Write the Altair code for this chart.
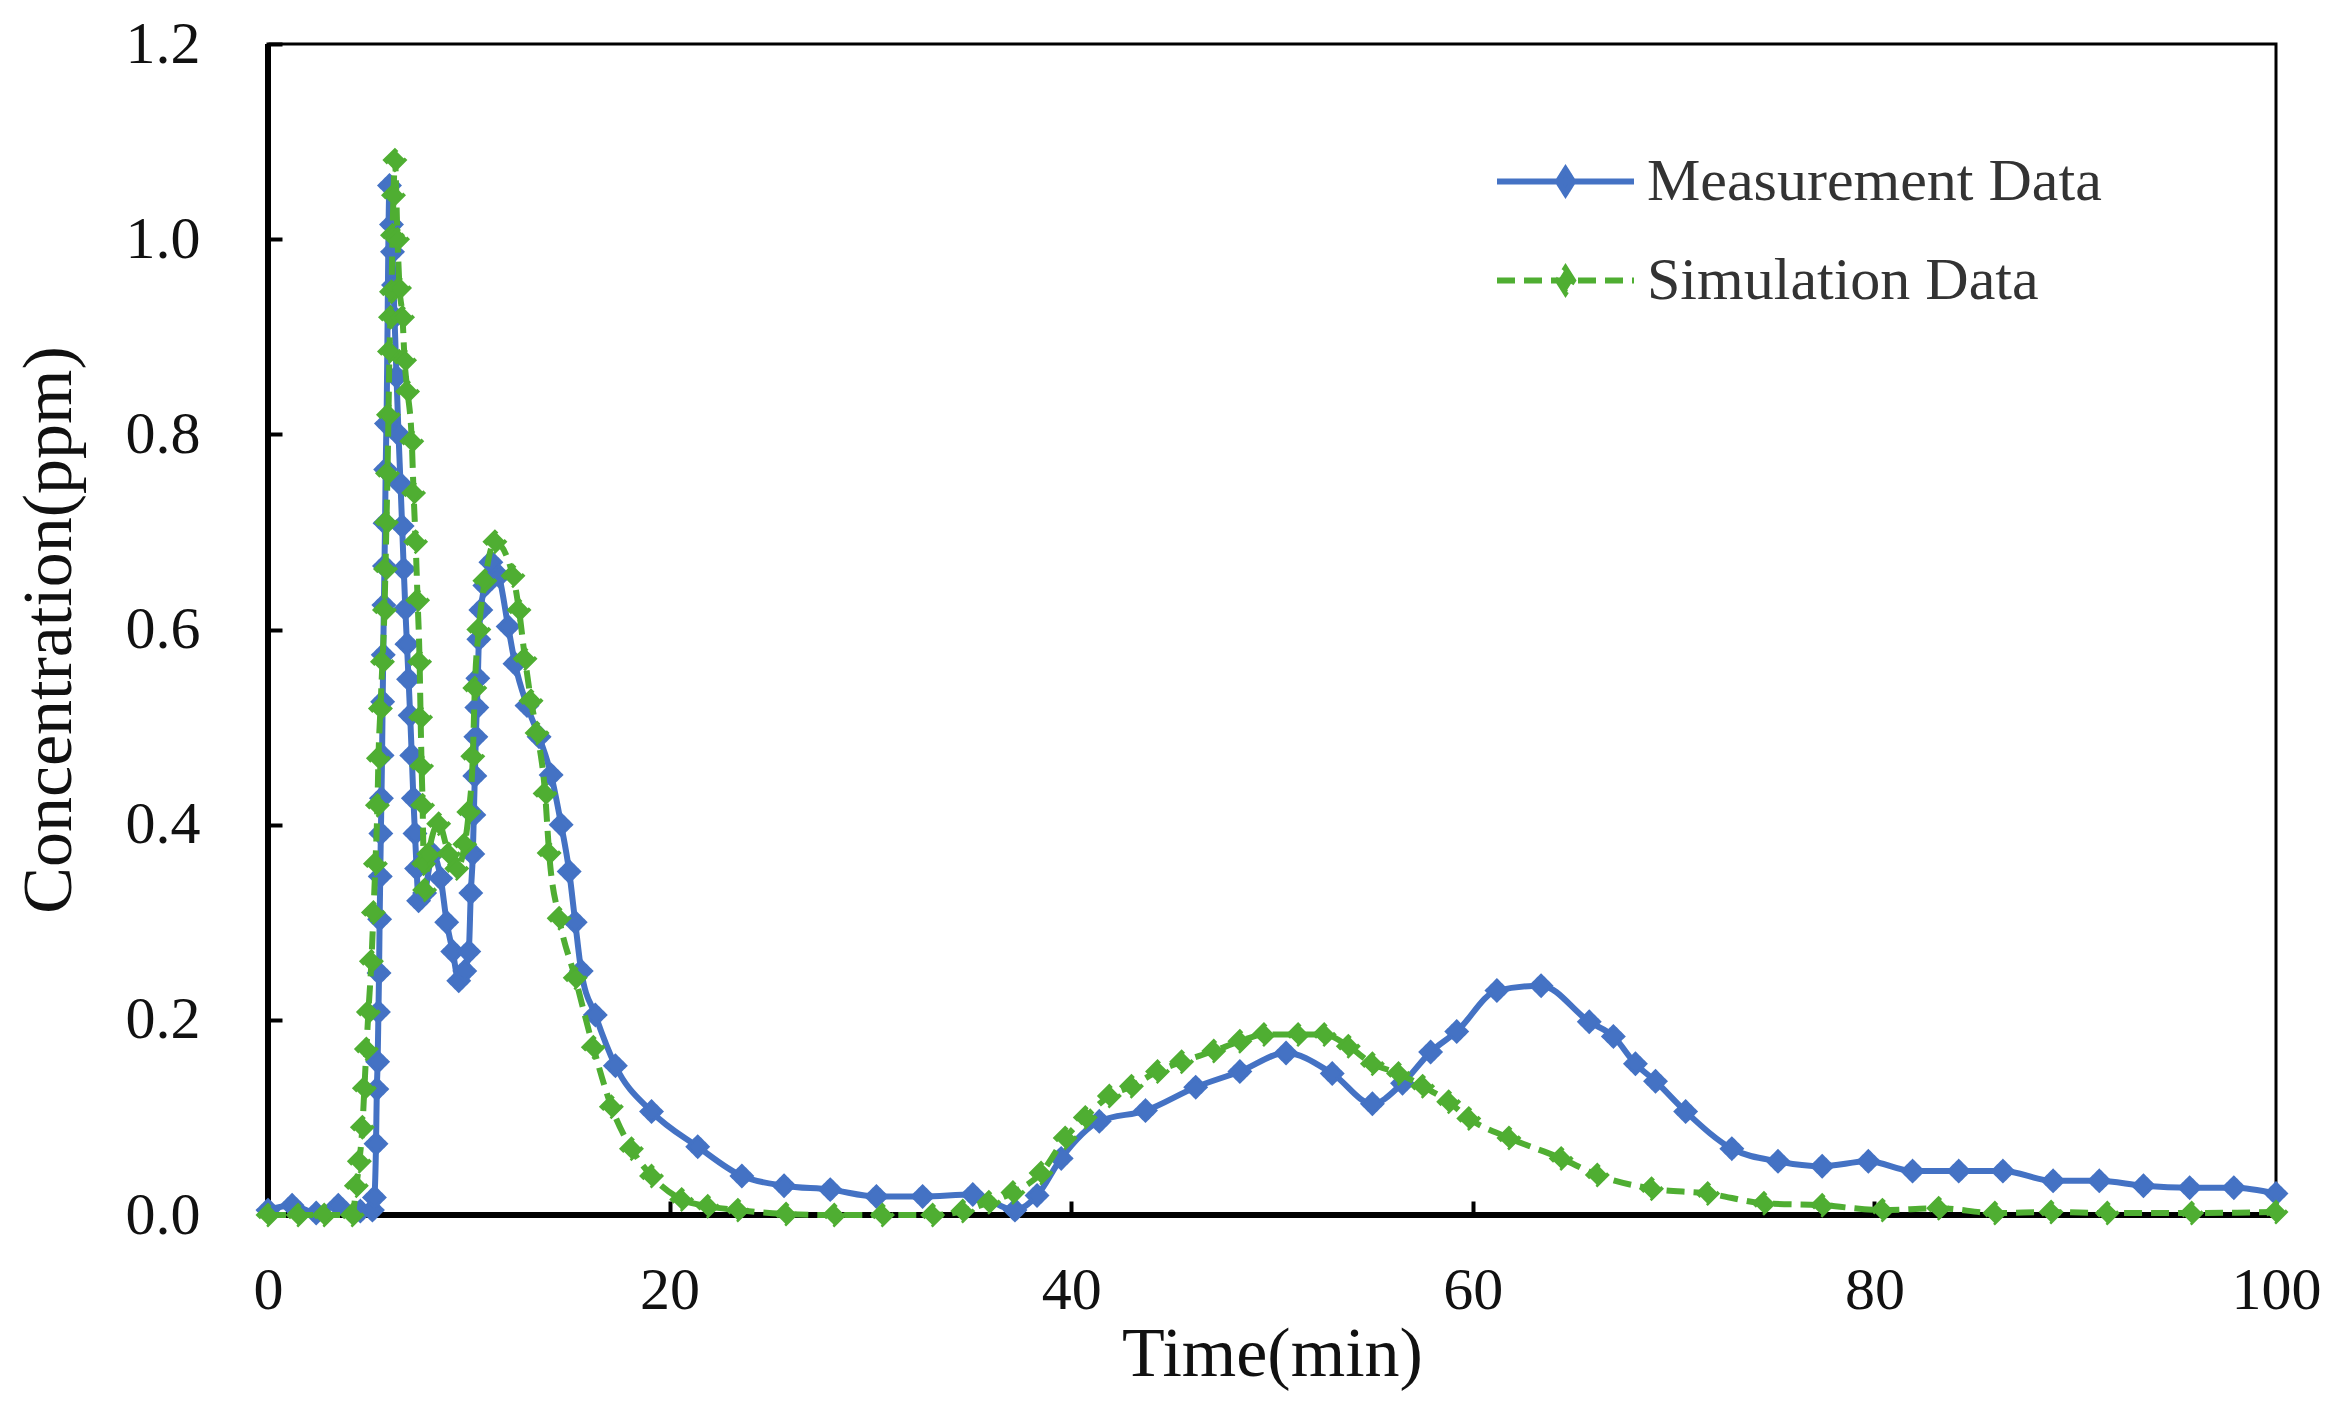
import altair as alt
import pandas as pd

# ---- data ----
meas_t = [0, 1.2, 2.4, 3.5, 4.6, 5.2, 5.3, 5.38, 5.42, 5.46, 5.5, 5.53, 5.56, 5.59, 5.62,
          5.65, 5.68, 5.71, 5.74, 5.77, 5.8, 5.83, 5.86, 5.9, 6.05, 6.15, 6.2, 6.25, 6.3,
          6.4, 6.5, 6.6, 6.68, 6.76, 6.84, 6.92, 7.0, 7.08, 7.16, 7.24, 7.32, 7.4, 7.5,
          7.8, 8.2, 8.6, 8.9, 9.2, 9.5, 9.8, 10.0, 10.1, 10.2, 10.25, 10.3, 10.35, 10.4,
          10.45, 10.5, 10.6, 10.8, 11.1, 11.5, 11.96, 12.3, 12.9, 13.5, 14.1, 14.6, 15.0,
          15.3, 15.6, 16.3, 17.3, 19.1, 21.4, 23.6, 25.7, 28.0, 30.3, 32.6, 35.1, 37.2,
          38.3, 39.5, 41.4, 43.7, 46.2, 48.4, 50.7, 53.0, 55.0, 56.5, 57.9, 59.2, 61.2,
          63.4, 65.8, 67.0, 68.1, 69.1, 70.6, 72.9, 75.2, 77.4, 79.7, 81.9, 84.2, 86.4,
          88.9, 91.2, 93.4, 95.7, 97.9, 100]
meas_c = [0.005, 0.01, 0.002, 0.01, 0.004, 0.005, 0.018, 0.073, 0.129, 0.157, 0.208, 0.248,
          0.303, 0.347, 0.391, 0.427, 0.471, 0.526, 0.574, 0.625, 0.665, 0.709, 0.764, 0.811,
          1.055, 1.015, 0.987, 0.953, 0.92, 0.859, 0.80, 0.749, 0.706, 0.662, 0.621, 0.585,
          0.549, 0.512, 0.471, 0.427, 0.391, 0.355, 0.322, 0.33, 0.37, 0.345, 0.30, 0.27,
          0.24, 0.25, 0.27, 0.33, 0.37, 0.41, 0.45, 0.49, 0.52, 0.55, 0.59, 0.62, 0.645,
          0.669, 0.655, 0.603, 0.565, 0.522, 0.49, 0.451, 0.40, 0.352, 0.30, 0.25, 0.205,
          0.153, 0.106, 0.07, 0.04, 0.03, 0.026, 0.019, 0.019, 0.021, 0.005, 0.02, 0.058,
          0.096, 0.107, 0.131, 0.147, 0.166, 0.145, 0.114, 0.135, 0.167, 0.188, 0.23,
          0.235, 0.198, 0.183, 0.155, 0.137, 0.106, 0.068, 0.055, 0.05, 0.055, 0.045,
          0.045, 0.045, 0.035, 0.035, 0.03, 0.028, 0.028, 0.022]

sim_t = [0, 1.5, 2.8, 4.2, 4.4, 4.55, 4.7, 4.8, 4.9, 5.0, 5.15, 5.25, 5.35, 5.45, 5.5, 5.6,
         5.7, 5.8, 5.85, 5.9, 5.95, 6.0, 6.05, 6.1, 6.15, 6.2, 6.25, 6.32, 6.45, 6.55, 6.7,
         6.8, 6.95, 7.16, 7.25, 7.35, 7.45, 7.55, 7.6, 7.65, 7.7, 7.75, 7.8, 8.0, 8.5, 9.0,
         9.4, 9.8, 10.0, 10.2, 10.3, 10.5, 10.8, 11.3, 12.2, 12.5, 12.8, 13.1, 13.4, 13.8,
         14.0, 14.5, 15.3, 16.2, 17.1, 18.1, 19.1, 20.6, 21.9, 23.4, 25.8, 28.2, 30.6,
         33.1, 34.6, 35.9, 37.1, 38.5, 39.7, 40.7, 41.9, 43.0, 44.3, 45.5, 47.1, 48.4,
         49.6, 51.3, 52.6, 53.8, 55.0, 56.3, 57.5, 58.8, 59.8, 61.8, 64.4, 66.2, 68.9,
         71.7, 74.5, 77.4, 80.4, 83.2, 86.0, 88.8, 91.6, 95.8, 100]
sim_c = [0, 0, 0, 0, 0.03, 0.055, 0.09, 0.13, 0.17, 0.208, 0.26, 0.31, 0.36, 0.42, 0.468,
         0.519, 0.567, 0.62, 0.662, 0.71, 0.76, 0.82, 0.885, 0.92, 0.946, 1.004, 1.045,
         1.081, 1.0, 0.95, 0.92, 0.876, 0.844, 0.793, 0.74, 0.69, 0.63, 0.567, 0.51, 0.46,
         0.42, 0.36, 0.333, 0.37, 0.401, 0.37, 0.355, 0.38, 0.413, 0.47, 0.54, 0.60, 0.65,
         0.69, 0.655, 0.62, 0.57, 0.527, 0.494, 0.432, 0.371, 0.304, 0.243, 0.172, 0.111,
         0.068, 0.04, 0.016, 0.009, 0.005, 0.001, 0, 0, 0, 0.004, 0.013, 0.023, 0.043,
         0.079, 0.1, 0.122, 0.132, 0.147, 0.157, 0.168, 0.178, 0.185, 0.185, 0.185, 0.173,
         0.155, 0.145, 0.132, 0.116, 0.099, 0.079, 0.058, 0.041, 0.027, 0.022, 0.012, 0.01,
         0.005, 0.007, 0.002, 0.003, 0.002, 0.002, 0.003]

series_names = ["Measurement Data", "Simulation Data"]
x_ticks = [0, 20, 40, 60, 80, 100]
y_ticks = [0.0, 0.2, 0.4, 0.6, 0.8, 1.0, 1.2]

BLUE = "#4472C4"
GREEN = "#4FAE32"
FONT = "Liberation Serif"

df = pd.concat([
    pd.DataFrame({"t": meas_t, "c": meas_c, "series": series_names[0]}),
    pd.DataFrame({"t": sim_t, "c": sim_c, "series": series_names[1]}),
], ignore_index=True)

x_enc = alt.X("t:Q", scale=alt.Scale(domain=[0, 100], nice=False, zero=False),
              axis=alt.Axis(title="Time(min)", values=x_ticks, format="d", grid=False,
                            domain=False, offset=-14, tickSize=14, tickWidth=4,
                            tickColor="black", labelPadding=46, labelFlush=False,
                            labelFont=FONT, labelFontSize=60, labelColor="#111",
                            titleFont=FONT, titleFontSize=70, titleFontWeight="normal",
                            titleColor="#111", titlePadding=0))
y_enc = alt.Y("c:Q", scale=alt.Scale(domain=[0, 1.2], nice=False),
              axis=alt.Axis(title="Concentration(ppm)", values=y_ticks, format=".1f",
                            grid=False, domain=False, offset=-14, tickSize=14, tickWidth=4,
                            tickColor="black", labelPadding=68, labelFlush=False,
                            labelFont=FONT, labelFontSize=60, labelColor="#111",
                            titleFont=FONT, titleFontSize=70, titleFontWeight="normal",
                            titleColor="#111", titlePadding=40))

color_scale = alt.Scale(domain=series_names, range=[BLUE, GREEN])
dash_scale = alt.Scale(domain=series_names, range=[[1, 0], [18, 9]])
LEG_PATH = "M-2,0H2M0,-0.35L0.22,0L0,0.35L-0.22,0Z"
legend = alt.Legend(title=None, orient="none", legendX=1260, legendY=100, padding=0,
                    symbolType=LEG_PATH, symbolSize=4692, symbolStrokeWidth=6,
                    symbolOpacity=1, labelFont=FONT, labelFontSize=60, labelColor="#333",
                    labelOffset=44, labelLimit=1000, rowPadding=31)

base = alt.Chart(df)

def pts(name):
    return base.transform_filter(alt.datum.series == name).mark_point(
        shape="diamond", filled=True, size=430, opacity=1, strokeWidth=3
    ).encode(
        x=x_enc, y=y_enc,
        color=alt.Color("series:N", scale=color_scale, legend=legend),
        stroke=alt.Stroke("series:N", scale=color_scale, legend=legend),
        strokeDash=alt.StrokeDash("series:N", scale=dash_scale, legend=legend),
    )

line_meas = base.transform_filter(alt.datum.series == series_names[0]).mark_line(
    color=BLUE, strokeWidth=6, interpolate="monotone").encode(x=x_enc, y=y_enc)
line_sim = base.transform_filter(alt.datum.series == series_names[1]).mark_line(
    color=GREEN, strokeWidth=6, strokeDash=[18, 9], interpolate="monotone").encode(x=x_enc, y=y_enc)

frame_df = pd.DataFrame({"v": [0]})
left_rule = alt.Chart(frame_df).mark_rule(color="black", strokeWidth=6).encode(x=alt.datum(0))
bottom_rule = alt.Chart(frame_df).mark_rule(color="black", strokeWidth=6).encode(y=alt.datum(0))

chart = alt.layer(
    left_rule, bottom_rule, line_meas, pts(series_names[0]), line_sim, pts(series_names[1])
).properties(
    width=2008, height=1171,
    autosize=alt.AutoSizeParams(type="none"),
    padding={"left": 260, "top": 36, "right": 45, "bottom": 180},
    background="white",
).configure_view(stroke="black", strokeWidth=3)

chart.save("out.html", embed_options={"renderer": "svg", "actions": False})
